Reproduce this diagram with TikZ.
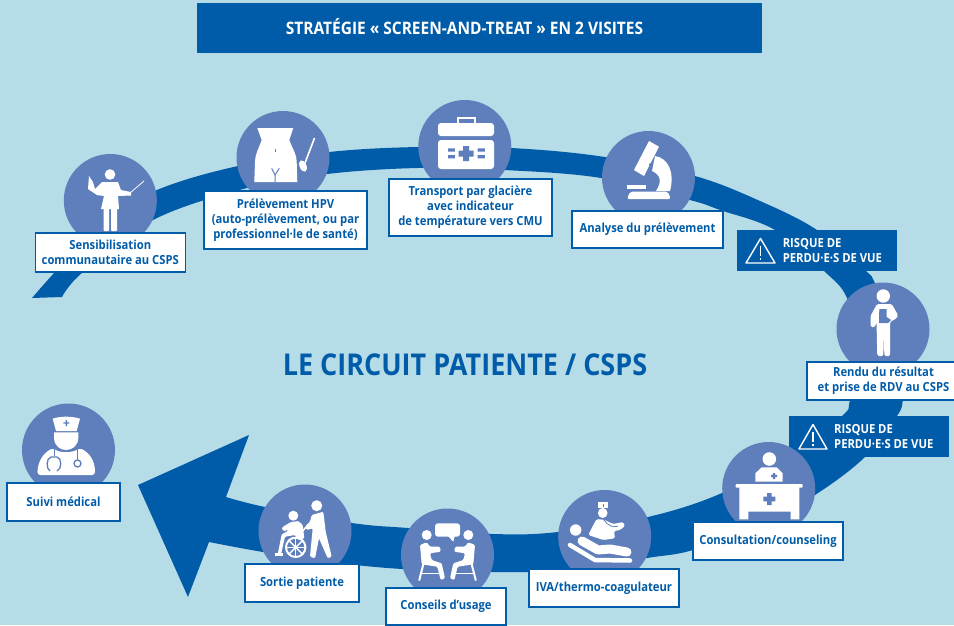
\documentclass[tikz,border=0pt]{standalone}
\usepackage{fontspec}
\setmainfont[FakeStretch=0.9]{Open Sans}
\usetikzlibrary{positioning}
\definecolor{bg}{HTML}{B6DCE8}
\definecolor{bl}{HTML}{005CA9}
\definecolor{ci}{HTML}{5F7FBC}
\begin{document}
\begin{tikzpicture}[x=1pt,y=-1pt,
    pcirc/.style={circle,fill=ci,minimum size=93pt,inner sep=0pt,outer sep=0pt},
    plab/.style={draw=bl,line width=1.2pt,fill=white,text=bl,align=center,inner sep=0pt,outer sep=0pt,
      font=\bfseries\fontsize{12.5}{15}\selectfont},
    rbox/.style={fill=bl,inner sep=0pt,outer sep=0pt,minimum width=160pt,minimum height=41pt},
    rtxt/.style={text=white,align=left,inner sep=0pt,font=\bfseries\fontsize{12.5}{15.5}\selectfont},
    wtri/.style={draw=white,line width=1.4pt,line join=round},
    ico/.style={fill=white},
    blu/.style={fill=ci},
    bline/.style={draw=ci,line width=1pt}]
 \useasboundingbox (0,0) rectangle (954,625);
 \fill[bg] (0,0) rectangle (954,625);
 \node[fill=bl,minimum width=565pt,minimum height=50pt,inner sep=0pt] (TITLE) at (479.5,28) {};
 \node[text=white,inner sep=0pt,font=\bfseries\fontsize{17.2}{20}\selectfont] (TITLET) at (464.5,26.5)
  {STRATÉGIE « SCREEN-AND-TREAT » EN 2 VISITES};
 \node[text=bl,inner sep=0pt,font=\bfseries\fontsize{30}{33}\selectfont] (CIRC) at (465,365)
  {LE CIRCUIT PATIENTE / CSPS};
 \fill[bl] plot[smooth,tension=.6] coordinates {(32,298) (55,272) (100,224) (157,190) (238,166)
   (329,152) (418,147) (511,148) (605,157) (695,176) (760,201) (817,230) (866,271) (875,283)
   (900,330) (908,370) (903,400) (897,416) (865,457) (815,495) (760,525) (693,550) (647,558)
   (570,570) (493,572) (402,569) (330,562) (263,552) (209,542)}
   -- (188,597) -- (138,485) -- (249,435) -- (226,497)
   -- plot[smooth,tension=.6] coordinates {(226,497) (265,507) (352,523) (408,528) (493,534)
   (558,532) (648,517) (722,493) (790,455) (842,416) (850,400) (860,350) (847,298) (824,271)
   (775,230) (720,210) (690,200) (601,178) (504,170) (418,168) (327,174) (247,188) (153,220)
   (83,272) (62,297)} -- cycle;
 \node[rbox] (RISKB) at (869,436.5) {};
 \node[rtxt,right=45pt of RISKB.west] (RISKBT) {RISQUE DE\\PERDU·E·S DE VUE};
 \foreach \N/\X/\Y in {SENS/110.3/200.5,HPV/283/157.5,GLA/464.8/146.5,ANA/648.5/177.5,RDV/883/329,
   CONS/768.7/488.5,IVA/604.7/536.5,USG/447.5/555,SORT/305/531,SUIVI/68.5/450}
   {\node[pcirc] (\N) at (\X,\Y) {};}
 \node[rbox] (RISKA) at (817,250.5) {};
 \node[rtxt,right=45.6pt of RISKA.west] (RISKAT) {RISQUE DE\\PERDU·E·S DE VUE};
 \draw[wtri] (760.5,238.5) -- (775,263) -- (746,263) -- cycle;
 \draw[white,line width=1.6pt] (760.5,246) -- (760.5,256) (760.5,258) -- (760.5,260);
 \draw[wtri] (813,424.5) -- (827,449) -- (799,449) -- cycle;
 \draw[white,line width=1.6pt] (813,432) -- (813,442) (813,444) -- (813,446);
 % sensibilisation
 \fill[ico] (110,174.5) circle (5.3);
 \fill[ico] (89,176) -- (93,182) -- (95,189) -- (102,182) -- (118,182) -- (121,190) -- (131,192)
   -- (131,195.5) -- (118,196) -- (119,209) -- (101,209) -- (104,196) -- (97,195) -- (88,189) -- cycle;
 \fill[ico,rounded corners=1pt] (103.5,207) rectangle (109,231) (111,207) rectangle (117,231);
 \draw[white,line width=.8pt] (130,193) -- (144,181);
 % hpv
 \fill[ico] (257.3,128) -- (293.3,128) -- (289.3,140) .. controls (293,150) and (297,155) .. (296.7,162)
   -- (297.3,182) -- (254.3,182) -- (255,162) .. controls (255,155) and (258,150) .. (261.7,140) -- cycle;
 \draw[bline] (271.7,168.3) -- (275,175) -- (279.3,168.3) (275,175) -- (275,182);
 \fill[blu] (275.2,149) rectangle (276.2,152);
 \draw[white,line width=1.6pt] (314.5,138) -- (305,163);
 \fill[ico,rotate around={22:(303,166)}] (303,166) ellipse (3.4 and 6);
 % glaciere
 \fill[ico,rounded corners=3pt] (438,136) -- (438,123) -- (494,123) -- (494,136) -- cycle;
 \fill[ico,rounded corners=3pt] (438,140) -- (494,140) -- (494,169) -- (438,169) -- cycle;
 \draw[white,line width=2pt] (457.5,123) -- (457.5,118.3) -- (475,118.3) -- (475,123);
 \fill[blu] (463,146) rectangle (469,161) (458.5,150.5) rectangle (473.5,156.5)
   (448,148.3) rectangle (454.8,151.7) (448,155) rectangle (454.8,158.3)
   (477.7,148.3) rectangle (484.8,151.7) (477.7,155) rectangle (484.8,158.3);
 % microscope
 \fill[ico] (649,141) -- (659,146.7) -- (644,176) -- (634,170) -- cycle;
 \fill[ico] (655,156) .. controls (668,158) and (675,172) .. (670,191) -- (656,191)
   .. controls (662,182) and (661,175) .. (652,171) -- cycle;
 \fill[ico,rounded corners=2pt] (627,199) -- (630,191.7) -- (668,191.7) -- (670.6,199) -- cycle;
 \fill[ico] (627,185) rectangle (646,188.7);
 \fill[blu] (651,165) circle (2);
 % rendu
 \fill[ico] (883.3,296) circle (6.7);
 \fill[ico,rounded corners=1.5pt] (877,304) -- (891.7,304) -- (898,315) -- (897,318) -- (890,322) -- (890,356) -- (884.3,356)
   -- (884,332) -- (883.3,356) -- (877.3,356) -- (876.5,322) -- (875,327) -- (870.7,327) -- (870.5,316) -- cycle;
 \fill[blu] (879.3,309) -- (886.7,309) -- (886.7,317) -- (891,320) -- (888,323) -- (879,323) -- cycle;
 % consultation
 \fill[ico] (769.3,459) circle (6.8);
 \fill[ico] (755.3,481.7) -- (755.3,473.3) -- (761.7,467.3) -- (776.7,467.3) -- (782.7,473.3) -- (782.7,481.7) -- cycle;
 \fill[ico,rounded corners=.8pt] (735.7,484) rectangle (802.7,487.7);
 \fill[ico] (739.3,487) -- (799.3,487) -- (799.3,519.3) -- (790.7,519.3) -- (790.7,511.7) -- (748.3,511.7) -- (748.3,519.3) -- (739.3,519.3) -- cycle;
 \fill[blu] (772.8,473) rectangle (775.2,479) (771,474.8) rectangle (777,477.2);
 \fill[blu] (767,493) rectangle (771.6,505) (763.3,496.7) rectangle (775.3,501.3);
 % iva
 \fill[ico] (575.7,530) circle (5.7);
 \fill[ico] (598.3,501.7) rectangle (608.3,508.3);
 \fill[blu] (602.6,504) rectangle (604,506.5);
 \fill[ico] (602.7,513) ellipse (4.8 and 5);
 \fill[ico,rounded corners=1.5pt] (596.7,519) -- (605,520) -- (613,524) -- (623.3,522) -- (625,526) -- (620,530) -- (614,531) -- (615,538.3)
   -- (603.3,540) -- (588.3,535) -- (593.3,525) -- cycle;
 \draw[ci,line width=.8pt] (604,520) .. controls (608,526) and (614,528) .. (618,526);
 \draw[white,line width=9pt,line cap=round,line join=round] (582,541) -- (598,550) -- (610,549) -- (627,552);
 \draw[white,line width=4.5pt,line cap=round,line join=round] (570,545) -- (595,560) -- (630,560.5);
 % conseils
 \fill[ico,rounded corners=3pt] (435,523.3) rectangle (460,536.7);
 \fill[ico] (447,535) -- (453.3,541.7) -- (455,535) -- cycle;
 \foreach \X in {1,-1} {
  \begin{scope}[shift={(447.5,0)},xscale=\X]
   \fill[ico] (-20.8,535) circle (5);
   \fill[ico,rounded corners=1.2pt] (-27.5,545) -- (-20.8,542.3) -- (-17.5,546.7) -- (-7.5,546.7) -- (-6.8,551.7) -- (-17.5,553.3) -- (-15.8,560)
     -- (-5.8,563.3) -- (-2.5,578.3) -- (-6.8,580) -- (-10.2,566.7) -- (-25.8,564.3) -- cycle;
   \draw[white,line width=2pt,line cap=round] (-24.2,564.3) -- (-28.2,580);
   \draw[white,line width=1.5pt] (-26.8,573.3) -- (-6,573.3);
  \end{scope}}
 % sortie
 \fill[ico] (293.3,515.7) circle (5);
 \fill[ico] (316.7,505.7) circle (5.5);
 \fill[ico,rounded corners=1.2pt] (311.7,515) -- (323.3,511.7) -- (325.7,531.7) -- (331.7,556.7) -- (327.7,558.3) -- (319,538.3) -- (315,558.3)
   -- (310,556.7) -- (312.7,528.3) -- (306.7,530) -- (305,526.7) -- (310,521.7) -- cycle;
 \fill[ico,rounded corners=1pt] (290.3,522.3) -- (298.3,521) -- (302.7,525) -- (304.3,538.3) -- (298.3,540) -- (295,535) -- (285,536.7)
   -- (281,554.3) -- (277.7,554.3) -- (281.7,534.3) -- (285,532.7) -- (289,530) -- (283.3,531) -- (281.7,527.7) -- cycle;
 \fill[ico] (275,553.3) rectangle (283.3,555.7);
 \draw[white,line width=2pt] (295.7,547.3) circle (9.7);
 \foreach \A in {0,45,...,315} {\draw[white,line width=1.4pt] (295.7,547.3) -- +(\A:9);}
 \draw[white,line width=1.5pt] (302,532) -- (306,527);
 % suivi
 \fill[ico] (52.7,418.7) .. controls (60,416) and (72,416) .. (80,418.7) -- (76.7,431) -- (56,431) -- cycle;
 \fill[blu] (65.6,420) rectangle (67,426) (63.3,422.3) rectangle (69.3,423.7);
 \fill[ico] (54,432.3) -- (78.3,432.3) -- (78.3,438) .. controls (78,446) and (72,450) .. (66,450)
   .. controls (60,450) and (54.5,446) .. (54,438) -- cycle;
 \fill[ico,rounded corners=3pt] (37.3,475) .. controls (38,460) and (44,453) .. (53,448) .. controls (60,453) and (72,453) .. (80,448)
   .. controls (89,453) and (95,460) .. (95,475) -- cycle;
 \draw[ci,line width=1.2pt] (54.3,448) -- (54.3,456) (77.5,448) -- (77.5,460);
 \draw[ci,line width=1.3pt] (50,471) .. controls (46,469) and (46,458) .. (51,457) -- (57,457) .. controls (62,458) and (62,469) .. (57,471);
 \draw[ci,line width=1.3pt,fill=white] (77.5,463.5) circle (3.5);
 % labels
 \node[plab,minimum width=150pt,minimum height=39pt,below=-14pt of SENS] (SENSL)
  {Sensibilisation\\communautaire au CSPS};
 \node[plab,minimum width=163pt,minimum height=58pt,below=-13pt of HPV,xshift=2.5pt] (HPVL)
  {Prélèvement HPV\\(auto-prélèvement, ou par\\professionnel·le de santé)};
 \node[plab,minimum width=163pt,minimum height=57pt,below=-14pt of GLA,xshift=5.7pt] (GLAL)
  {Transport par glacière\\avec indicateur\\de température vers CMU};
 \node[plab,minimum width=151pt,minimum height=37pt,below=-13pt of ANA,xshift=-1pt] (ANAL)
  {Analyse du prélèvement};
 \node[plab,minimum width=153pt,minimum height=38pt,below=-13.5pt of RDV,xshift=.5pt] (RDVL)
  {Rendu du résultat\\et prise de RDV au CSPS};
 \node[plab,minimum width=150pt,minimum height=38pt,below=-13pt of CONS,xshift=-.7pt] (CONSL)
  {Consultation/counseling};
 \node[plab,minimum width=150pt,minimum height=38pt,below=-14pt of IVA,xshift=-.7pt] (IVAL)
  {IVA/thermo-coagulateur};
 \node[plab,minimum width=120pt,minimum height=37pt,below=-13.5pt of USG,xshift=-1.5pt] (USGL)
  {Conseils d’usage};
 \node[plab,minimum width=114pt,minimum height=38pt,below=-13.5pt of SORT,xshift=-3pt] (SORTL)
  {Sortie patiente};
 \node[plab,minimum width=113pt,minimum height=38pt,below=-13.5pt of SUIVI,xshift=-5pt] (SUIVIL)
  {Suivi médical};
\end{tikzpicture}
\end{document}
